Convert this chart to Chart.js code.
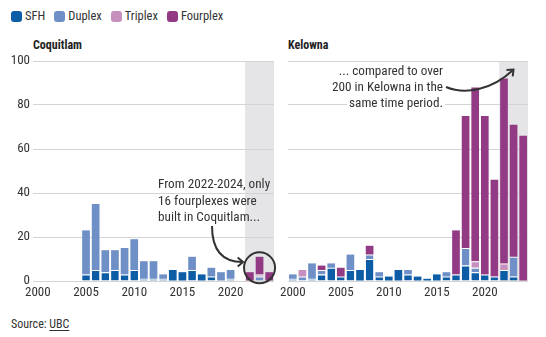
<!DOCTYPE html>
<html>
<head>
<meta charset="utf-8">
<script src="https://cdn.jsdelivr.net/npm/chart.js@4.4.0/dist/chart.umd.min.js"></script>
<style>
  body { margin:0; width:546px; height:337px; background:#fff; position:relative; overflow:hidden;
         font-family:'Liberation Sans Narrow','Roboto Condensed',Roboto,sans-serif; color:#333; }
  #legend { position:absolute; left:11px; top:9px; display:flex; font-size:12.5px; line-height:14px; }
  .item { display:flex; align-items:center; margin-right:9px; }
  .sw { width:11px; height:11px; border-radius:3px; margin-right:3px; }
  .title { position:absolute; top:38px; font-weight:bold; font-size:12px; color:#222; }
  canvas { position:absolute; top:50px; }
  #source { position:absolute; left:11px; top:317px; font-size:12px; }
  #source u { text-underline-offset:2px; }
</style>
</head>
<body>
<div id="legend"></div>
<div class="title" style="left:33px">Coquitlam</div>
<div class="title" style="left:288px">Kelowna</div>
<canvas id="coq" width="278" height="262" style="left:0"></canvas>
<canvas id="kel" width="250" height="262" style="left:280px"></canvas>
<div id="source">Source: <u>UBC</u></div>

<script>
const FONT = "'Liberation Sans Narrow','Roboto Condensed',Roboto,sans-serif";

// categories
const years = [2000,2001,2002,2003,2004,2005,2006,2007,2008,2009,2010,2011,2012,
               2013,2014,2015,2016,2017,2018,2019,2020,2021,2022,2023,2024];
const types = ['SFH','Duplex','Triplex','Fourplex'];
const colours = ['#0c5da5','#6e90c6','#c68fbd','#923a84'];
const yTicks = [0,20,40,60,80,100];
const periodStart = 2022; // shaded 2022-2024 window

// Coquitlam units per year
const coqSfh      = [0,0,0,0,0, 3, 5, 4, 5, 3, 5,1,1,1,5,4,5,3,2,0,1,0,0,0,0];
const coqDuplex   = [0,0,0,0,0,20,30,10, 9,12,14,8,8,2,0,0,6,0,4,4,4,0,0,2,0];
const coqTriplex  = [0,0,0,0,0, 0, 0, 0, 0, 0, 0,0,0,0,0,0,0,0,0,0,0,0,0,1,0];
const coqFourplex = [0,0,0,0,0, 0, 0, 0, 0, 0, 0,0,0,0,0,0,0,0,0,0,0,0,4,8,4];

// Kelowna units per year
const kelSfh      = [1,0,1,3,6,2,5,5,10,2,2,5,3,2,1,3,2, 3, 7, 4, 3, 2, 5, 2, 0];
const kelDuplex   = [2,2,7,2,2,0,7,0, 2,2,0,0,2,0,0,0,2, 0, 8, 2, 0, 0, 0, 9, 0];
const kelTriplex  = [0,3,0,0,0,0,0,0, 0,0,0,0,0,0,0,0,0, 0, 0, 3, 0, 0, 3, 0, 0];
const kelFourplex = [0,0,0,2,0,4,0,0, 4,0,0,0,0,0,0,0,0,20,60,79,72,44,84,60,66];

// legend
const legend = document.getElementById('legend');
types.forEach((t, i) => {
  legend.insertAdjacentHTML('beforeend',
    `<div class="item"><span class="sw" style="background:${colours[i]}"></span>${t}</div>`);
});

// white line on top of a segment only when something is stacked above it
function segBorder(ctx) {
  const sets = ctx.chart.data.datasets;
  const i = ctx.dataIndex, d = ctx.datasetIndex;
  if (!sets[d].data[i]) return 0;
  for (let k = d + 1; k < sets.length; k++) {
    if (sets[k].data[i]) return {top: 1, right: 0, bottom: 0, left: 0};
  }
  return 0;
}

const shade = {
  id: 'shade',
  beforeDraw(chart) {
    const {ctx, chartArea, scales: {x}} = chart;
    const i = years.indexOf(periodStart);
    const half = (x.getPixelForValue(1) - x.getPixelForValue(0)) / 2;
    const left = x.getPixelForValue(i) - half;
    ctx.save();
    ctx.fillStyle = '#e5e4e6';
    ctx.fillRect(left, chartArea.top, chartArea.right - left, chartArea.bottom - chartArea.top + 1);
    ctx.restore();
  }
};

function arrowHead(ctx, x, y, ang) {
  const len = 7, spread = 0.7;
  ctx.beginPath();
  ctx.moveTo(x - len * Math.cos(ang - spread), y - len * Math.sin(ang - spread));
  ctx.lineTo(x, y);
  ctx.lineTo(x - len * Math.cos(ang + spread), y - len * Math.sin(ang + spread));
  ctx.stroke();
}

const coqNote = {
  id: 'coqNote',
  afterDraw(chart) {
    const {ctx, scales: {x, y}} = chart;
    ctx.save();
    ctx.font = '13.2px ' + FONT;
    ctx.fillStyle = '#333';
    ctx.textBaseline = 'middle';
    ['From 2022-2024, only', '16 fourplexes were', 'built in Coquitlam...']
      .forEach((t, i) => ctx.fillText(t, 158, 135 + i * 16.5));
    const cx = x.getPixelForValue(years.indexOf(2023));
    const cy = y.getPixelForValue(6);
    ctx.strokeStyle = '#333';
    ctx.lineWidth = 2;
    ctx.beginPath();
    ctx.arc(cx, cy, 15.5, 0, Math.PI * 2);
    ctx.stroke();
    ctx.beginPath();
    ctx.moveTo(212, 176);
    ctx.quadraticCurveTo(212, 212, cx - 17, 212);
    ctx.stroke();
    arrowHead(ctx, cx - 16.5, 212, 0);
    ctx.restore();
  }
};

const kelNote = {
  id: 'kelNote',
  afterDraw(chart) {
    const {ctx} = chart;
    ctx.save();
    ctx.font = '13.2px ' + FONT;
    ctx.textBaseline = 'middle';
    ctx.textAlign = 'right';
    ['... compared to over', '200 in Kelowna in the', 'same time period.'].forEach((t, i) => {
      const ty = 21.5 + i * 16;
      const w = ctx.measureText(t).width;
      ctx.fillStyle = '#fff';
      ctx.fillRect(163 - w - 2, ty - 7, w + 4, 14);
      ctx.fillStyle = '#333';
      ctx.fillText(t, 163, ty);
    });
    ctx.strokeStyle = '#333';
    ctx.lineWidth = 2;
    ctx.beginPath();
    ctx.moveTo(166, 37);
    ctx.bezierCurveTo(185, 45, 212, 40, 233, 20);
    ctx.stroke();
    arrowHead(ctx, 233.5, 19.5, Math.atan2(-20, 21));
    ctx.restore();
  }
};

function makeChart(id, sets, showY, note, padLeft, padRight) {
  return new Chart(document.getElementById(id), {
    type: 'bar',
    data: {
      labels: years,
      datasets: sets.map((d, i) => ({
        label: types[i],
        data: d,
        backgroundColor: colours[i],
        borderColor: '#fff',
        borderWidth: segBorder,
        borderSkipped: false,
        barPercentage: 0.8,
        categoryPercentage: 1
      }))
    },
    options: {
      responsive: false,
      animation: false,
      events: [],
      layout: {padding: {top: 11, left: padLeft, right: padRight, bottom: 0}},
      plugins: {legend: {display: false}, tooltip: {enabled: false}},
      scales: {
        x: {
          stacked: true,
          grid: {display: false},
          border: {display: false},
          ticks: {
            autoSkip: false, maxRotation: 0, padding: -4, color: '#333',
            font: {family: FONT, size: 13},
            callback: (v, i) => (years[i] % 5 === 0 ? String(years[i]) : '')
          },
          afterFit: s => { s.height = 31; }
        },
        y: {
          stacked: true,
          min: yTicks[0],
          max: yTicks[yTicks.length - 1],
          afterBuildTicks: s => { s.ticks = yTicks.map(v => ({value: v})); },
          grid: {color: '#d4d4d4', lineWidth: 1, drawTicks: false},
          border: {display: false},
          ticks: {display: showY, padding: 3, color: '#333', font: {family: FONT, size: 13}},
          afterFit: s => { s.width = showY ? 33 : 0; }
        }
      }
    },
    plugins: [shade, note]
  });
}

makeChart('coq', [coqSfh, coqDuplex, coqTriplex, coqFourplex], true, coqNote, 0, 4);
makeChart('kel', [kelSfh, kelDuplex, kelTriplex, kelFourplex], false, kelNote, 8, 2);
</script>
</body>
</html>
